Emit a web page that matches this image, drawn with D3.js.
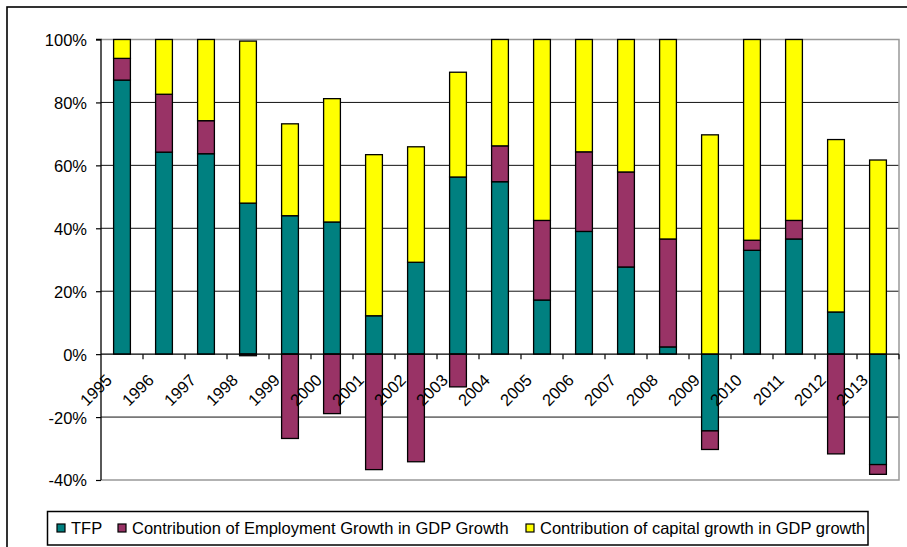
<!DOCTYPE html>
<html><head><meta charset="utf-8">
<script src="https://cdn.jsdelivr.net/npm/d3@7"></script>
<style>
html,body{margin:0;padding:0;background:#fff;}
svg{display:block;font-family:"Liberation Sans",Arial,sans-serif;}
</style></head>
<body>
<svg id="c" width="907" height="547"></svg>
<script>
const years = ["1995","1996","1997","1998","1999","2000","2001","2002","2003","2004","2005","2006","2007","2008","2009","2010","2011","2012","2013"];
const tfp = [87.1, 64.2, 63.7, 48.0, 44.0, 42.0, 12.2, 29.2, 56.3, 54.8, 17.2, 39.0, 27.7, 2.3, -24.4, 33.0, 36.6, 13.4, -35.1];
const employment = [6.9, 18.4, 10.5, -0.5, -26.8, -18.9, -36.7, -34.2, -10.4, 11.4, 25.3, 25.3, 30.2, 34.3, -5.9, 3.2, 5.9, -31.7, -3.1];
const capital = [6.0, 17.4, 25.8, 51.5, 29.2, 39.2, 51.2, 36.7, 33.3, 33.8, 57.5, 35.7, 42.1, 63.4, 69.7, 63.8, 57.5, 54.8, 61.7];
const yTicks = [-40, -20, 0, 20, 40, 60, 80, 100];
const seriesNames = ["TFP", "Contribution of Employment Growth in GDP Growth", "Contribution of capital growth in GDP growth"];
const seriesColors = ["#008080", "#993366", "#FFFF00"];

const svg = d3.select("#c");
const L = 101, R = 899, T = 39.5, B = 480;
const fs = 16.5;

// outer chart border
svg.append("rect").attr("x", 7).attr("y", 7).attr("width", 1000).attr("height", 1000)
  .attr("fill", "none").attr("stroke", "#000").attr("stroke-width", 1.6);

const x = d3.scaleBand().domain(years).range([L, R]).paddingInner(0.6).paddingOuter(0.3);
const y = d3.scaleLinear().domain([-40, 100]).range([B, T]);

const rows = years.map((yr, i) => ({year: yr, s0: tfp[i], s1: employment[i], s2: capital[i]}));
const stack = d3.stack().keys(["s0", "s1", "s2"]).offset(d3.stackOffsetDiverging);
const layers = stack(rows);

// gridlines
svg.append("g").selectAll("line").data(yTicks.filter(t => t !== 0 && t !== 100 && t !== -40)).join("line")
  .attr("x1", L).attr("x2", R).attr("y1", d => y(d)).attr("y2", d => y(d))
  .attr("stroke", "#111").attr("stroke-width", 1);

// plot border (top, right, bottom) gray
svg.append("path")
  .attr("d", `M${L},${y(100)}H${R}V${y(-40)}H${L}`)
  .attr("fill", "none").attr("stroke", "#999").attr("stroke-width", 1.5);

// bars
layers.forEach((layer, li) => {
  svg.append("g").selectAll("rect").data(layer).join("rect")
    .attr("x", d => x(d.data.year))
    .attr("width", x.bandwidth())
    .attr("y", d => y(Math.max(d[0], d[1])))
    .attr("height", d => Math.abs(y(d[0]) - y(d[1])))
    .attr("fill", seriesColors[li])
    .attr("stroke", "#000").attr("stroke-width", 1.3);
});

// y axis
const yAxis = d3.axisLeft(y).tickValues(yTicks).tickSize(5).tickFormat(d => d + "%");
const gy = svg.append("g").attr("transform", `translate(${L},0)`).call(yAxis);
gy.select(".domain").attr("stroke", "#000").attr("stroke-width", 1.3).attr("d", `M-5,${y(100)}H0V${y(-40)}`);
gy.selectAll(".tick line").attr("stroke", "#000").attr("stroke-width", 1.2);
gy.selectAll(".tick text").attr("x", -14).attr("dy", "0.36em")
  .attr("font-size", fs).attr("fill", "#000").attr("font-family", "Liberation Sans, Arial, sans-serif");

// x axis at zero
const step = x.step();
const xb = svg.append("g");
xb.append("line").attr("x1", L).attr("x2", R).attr("y1", y(0)).attr("y2", y(0))
  .attr("stroke", "#000").attr("stroke-width", 1.3);
xb.selectAll("line.t").data(years).join("line").attr("class", "t")
  .attr("x1", d => x(d) - x.paddingOuter() * step + step)
  .attr("x2", d => x(d) - x.paddingOuter() * step + step)
  .attr("y1", y(0)).attr("y2", y(0) + 5)
  .attr("stroke", "#000").attr("stroke-width", 1.2);
xb.selectAll("text").data(years).join("text")
  .attr("transform", d => `translate(${x(d) + x.bandwidth() / 2 - 9},${y(0) + 27}) rotate(-45)`)
  .attr("text-anchor", "end").attr("font-size", fs).attr("fill", "#000")
  .text(d => d);

// legend
const lg = svg.append("g");
lg.append("rect").attr("x", 47.5).attr("y", 511.5).attr("width", 820.5).attr("height", 33.5)
  .attr("fill", "#fff").attr("stroke", "#000").attr("stroke-width", 1.5);
const legX = [57, 118, 526];
seriesNames.forEach((n, i) => {
  lg.append("rect").attr("x", legX[i]).attr("y", 524).attr("width", 8).attr("height", 8)
    .attr("fill", seriesColors[i]).attr("stroke", "#000").attr("stroke-width", 1.2);
  lg.append("text").attr("x", legX[i] + 14).attr("y", 533.5).attr("font-size", fs).attr("fill", "#000").text(n);
});
</script>
</body></html>
